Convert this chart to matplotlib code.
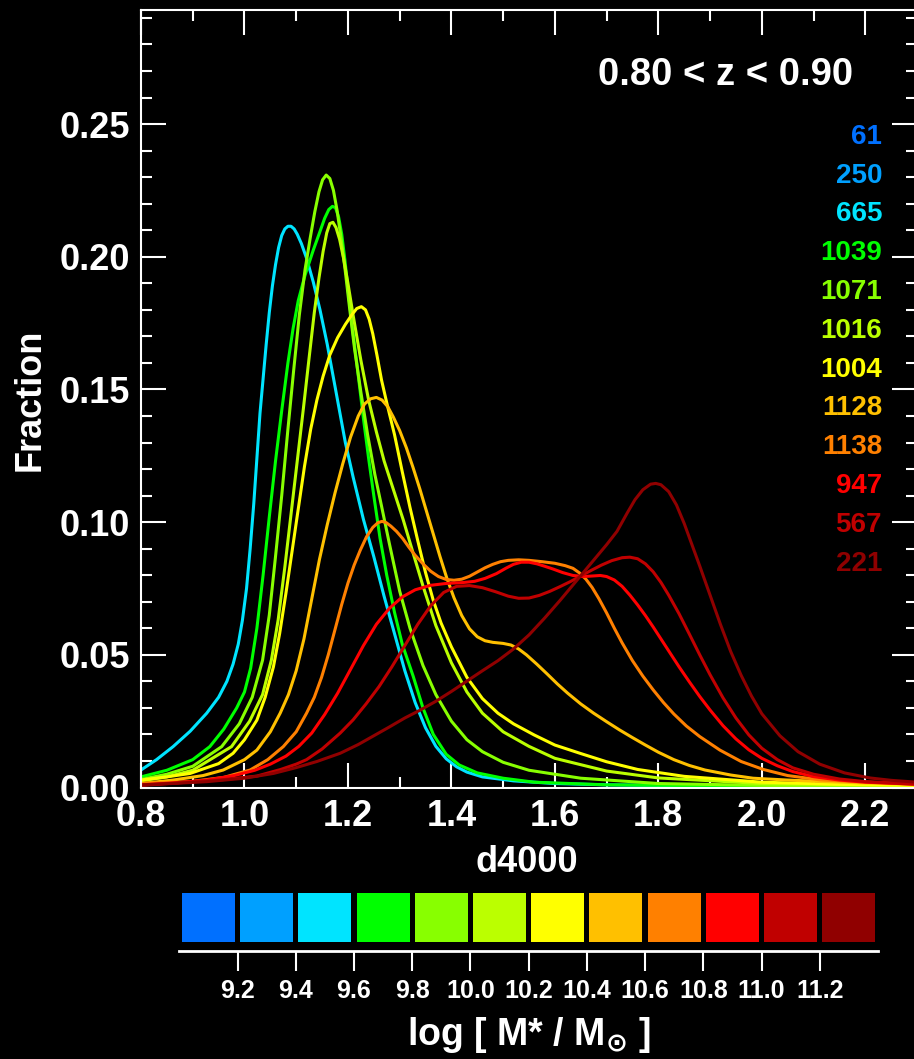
import matplotlib
matplotlib.use("Agg")
import matplotlib.pyplot as plt
import numpy as np

plt.rcParams['font.family'] = ['Liberation Sans', 'DejaVu Sans']
plt.rcParams['font.weight'] = 'bold'

# bins de masa (log M*/Msun) y numero de galaxias en cada bin
mass_edges = [9.0, 9.2, 9.4, 9.6, 9.8, 10.0, 10.2, 10.4, 10.6, 10.8, 11.0, 11.2, 11.4]
mass_ticks = [9.2, 9.4, 9.6, 9.8, 10.0, 10.2, 10.4, 10.6, 10.8, 11.0, 11.2]
counts = [61, 250, 665, 1039, 1071, 1016, 1004, 1128, 1138, 947, 567, 221]
colors = ['#0070ff', '#00a0ff', '#00e4ff', '#00ff00', '#88ff00', '#bbff00',
          '#ffff00', '#ffc000', '#ff8000', '#ff0000', '#c00000', '#900000']

# distribuciones de d4000 (solo los bins con curva)
d_665 = [0.80, 0.83, 0.862, 0.895, 0.927, 0.95, 0.966, 0.978, 0.988, 0.996, 1.004, 1.011, 1.018, 1.024,
         1.030, 1.036, 1.042, 1.048, 1.054, 1.060, 1.066, 1.072, 1.078, 1.084, 1.090, 1.096, 1.102,
         1.110, 1.120, 1.133, 1.146, 1.160, 1.178, 1.195, 1.210, 1.230, 1.250, 1.270, 1.290, 1.310,
         1.330, 1.350, 1.370, 1.390, 1.41, 1.43, 1.46, 1.52, 1.60, 1.70, 1.90, 2.30]
f_665 = [0.0066, 0.0105, 0.0154, 0.0212, 0.028, 0.034, 0.040, 0.0465, 0.054, 0.063, 0.075, 0.090, 0.107,
         0.124, 0.141, 0.154, 0.167, 0.179, 0.189, 0.197, 0.2035, 0.208, 0.2105, 0.2115, 0.2115, 0.2105,
         0.2085, 0.205, 0.1995, 0.1905, 0.180, 0.167, 0.148, 0.130, 0.117, 0.101, 0.087, 0.072, 0.058,
         0.044, 0.032, 0.0225, 0.0155, 0.0108, 0.0078, 0.0058, 0.004, 0.0025, 0.0015, 0.001, 0.0006,
         0.0003]

d_1039 = [0.80, 0.85, 0.90, 0.933, 0.96, 0.985, 1.00, 1.012, 1.024, 1.036, 1.048, 1.060, 1.072, 1.084,
          1.094, 1.104, 1.117, 1.133, 1.145, 1.155, 1.163, 1.170, 1.176, 1.182, 1.188, 1.194, 1.200,
          1.207, 1.217, 1.230, 1.240, 1.250, 1.262, 1.275, 1.290, 1.305, 1.326, 1.345, 1.365, 1.39,
          1.415, 1.45, 1.50, 1.56, 1.70, 2.0, 2.3]
f_1039 = [0.004, 0.0065, 0.0105, 0.0154, 0.022, 0.030, 0.036, 0.045, 0.060, 0.080, 0.102, 0.123, 0.142,
          0.160, 0.173, 0.1835, 0.193, 0.2025, 0.209, 0.2145, 0.2178, 0.219, 0.2185, 0.215, 0.2085,
          0.199, 0.188, 0.176, 0.160, 0.139, 0.124, 0.110, 0.094, 0.080, 0.066, 0.054, 0.042, 0.030,
          0.020, 0.0125, 0.0085, 0.0055, 0.0035, 0.002, 0.001, 0.0005, 0.0003]

d_1071 = [0.80, 0.85, 0.90, 0.956, 0.99, 1.015, 1.035, 1.048, 1.060, 1.072, 1.084, 1.095, 1.106, 1.117,
          1.127, 1.136, 1.144, 1.151, 1.158, 1.165, 1.172, 1.179, 1.186, 1.194, 1.203, 1.213, 1.225,
          1.238, 1.252, 1.265, 1.28, 1.30, 1.32, 1.345, 1.37, 1.40, 1.43, 1.46, 1.50, 1.55, 1.65, 1.8,
          2.0, 2.3]
f_1071 = [0.003, 0.005, 0.008, 0.0154, 0.024, 0.034, 0.048, 0.065, 0.087, 0.110, 0.135, 0.157, 0.178,
          0.195, 0.207, 0.217, 0.2245, 0.229, 0.2308, 0.2295, 0.225, 0.2175, 0.208, 0.196, 0.181, 0.165,
          0.149, 0.133, 0.118, 0.106, 0.092, 0.074, 0.060, 0.046, 0.035, 0.025, 0.018, 0.0135, 0.0095,
          0.0065, 0.0035, 0.0015, 0.0008, 0.0004]

d_1016 = [0.80, 0.85, 0.90, 0.975, 1.01, 1.035, 1.052, 1.065, 1.078, 1.090, 1.102, 1.114, 1.125, 1.135,
          1.144, 1.152, 1.159, 1.165, 1.171, 1.177, 1.184, 1.192, 1.20, 1.21, 1.225, 1.24, 1.255, 1.27,
          1.29, 1.307, 1.325, 1.345, 1.37, 1.40, 1.43, 1.46, 1.50, 1.55, 1.60, 1.70, 1.80, 2.0, 2.3]
f_1016 = [0.0025, 0.004, 0.0065, 0.0154, 0.025, 0.035, 0.048, 0.063, 0.083, 0.103, 0.123, 0.143, 0.162,
          0.179, 0.192, 0.202, 0.209, 0.2125, 0.213, 0.211, 0.2065, 0.199, 0.190, 0.178, 0.161, 0.146,
          0.134, 0.123, 0.111, 0.1008, 0.089, 0.076, 0.061, 0.047, 0.036, 0.028, 0.021, 0.0155, 0.011,
          0.0062, 0.0036, 0.0015, 0.0006]

d_1004 = [0.80, 0.85, 0.895, 0.95, 0.978, 1.00, 1.024, 1.04, 1.056, 1.068, 1.080, 1.092, 1.104, 1.116,
          1.128, 1.140, 1.152, 1.165, 1.18, 1.195, 1.207, 1.217, 1.226, 1.234, 1.241, 1.248, 1.256,
          1.265, 1.275, 1.29, 1.305, 1.32, 1.335, 1.35, 1.365, 1.38, 1.40, 1.43, 1.46, 1.49, 1.52, 1.56,
          1.60, 1.65, 1.70, 1.76, 1.85, 2.0, 2.15, 2.3]
f_1004 = [0.0028, 0.004, 0.0053, 0.009, 0.0129, 0.018, 0.0254, 0.034, 0.0455, 0.058, 0.073, 0.089, 0.105,
          0.121, 0.135, 0.146, 0.155, 0.163, 0.1695, 0.1745, 0.178, 0.1805, 0.1812, 0.180, 0.1765, 0.171,
          0.163, 0.1535, 0.145, 0.133, 0.119, 0.1055, 0.093, 0.081, 0.0705, 0.062, 0.053, 0.0415,
          0.0335, 0.028, 0.024, 0.0198, 0.016, 0.0128, 0.0097, 0.0068, 0.0042, 0.002, 0.0012, 0.0008]

d_1128 = [0.80, 0.862, 0.92, 0.959, 1.00, 1.024, 1.05, 1.069, 1.085, 1.10, 1.115, 1.13, 1.145, 1.16,
          1.175, 1.19, 1.205, 1.22, 1.232, 1.244, 1.255, 1.266, 1.277, 1.288, 1.30, 1.313, 1.326, 1.339,
          1.352, 1.365, 1.378, 1.391, 1.405, 1.42, 1.435, 1.45, 1.465, 1.48, 1.50, 1.515, 1.53, 1.545,
          1.565, 1.585, 1.605, 1.625, 1.65, 1.675, 1.70, 1.725, 1.75, 1.775, 1.80, 1.83, 1.86, 1.89,
          1.94, 1.983, 2.05, 2.11, 2.2, 2.3]
f_1128 = [0.0015, 0.0028, 0.0045, 0.0066, 0.0105, 0.0141, 0.021, 0.028, 0.035, 0.044, 0.056, 0.071,
          0.086, 0.099, 0.111, 0.122, 0.132, 0.140, 0.1445, 0.1465, 0.147, 0.146, 0.1435, 0.1395, 0.1345,
          0.128, 0.1205, 0.1125, 0.104, 0.0955, 0.087, 0.079, 0.0715, 0.0648, 0.0598, 0.0568, 0.0553,
          0.0547, 0.0543, 0.0537, 0.0522, 0.050, 0.0465, 0.0428, 0.039, 0.0355, 0.0315, 0.028, 0.0248,
          0.0217, 0.0188, 0.016, 0.0133, 0.0105, 0.0083, 0.0066, 0.0047, 0.0035, 0.0028, 0.0023, 0.0017,
          0.0012]

d_1138 = [0.80, 0.895, 0.96, 1.011, 1.045, 1.075, 1.10, 1.12, 1.135, 1.149, 1.162, 1.175, 1.188, 1.20,
          1.212, 1.224, 1.236, 1.248, 1.258, 1.266, 1.274, 1.283, 1.294, 1.306, 1.318, 1.33, 1.345, 1.36,
          1.375, 1.39, 1.405, 1.42, 1.435, 1.45, 1.465, 1.48, 1.495, 1.51, 1.53, 1.55, 1.575, 1.60, 1.62,
          1.635, 1.648, 1.66, 1.672, 1.685, 1.70, 1.715, 1.73, 1.75, 1.77, 1.79, 1.81, 1.83, 1.854, 1.88,
          1.919, 1.96, 2.003, 2.05, 2.112, 2.2, 2.3]
f_1138 = [0.0015, 0.0022, 0.0038, 0.0066, 0.0105, 0.0154, 0.021, 0.028, 0.034, 0.0415, 0.050, 0.0595,
          0.069, 0.077, 0.0838, 0.0895, 0.0945, 0.098, 0.0998, 0.1003, 0.0998, 0.0985, 0.0965, 0.0938,
          0.0905, 0.0875, 0.0843, 0.0815, 0.0795, 0.0784, 0.0781, 0.0785, 0.0796, 0.0812, 0.0828,
          0.0841, 0.0851, 0.0856, 0.0858, 0.0856, 0.0851, 0.0845, 0.0836, 0.0826, 0.0808, 0.0785,
          0.0754, 0.0712, 0.0658, 0.060, 0.0545, 0.0478, 0.042, 0.0368, 0.032, 0.0277, 0.0232, 0.0192,
          0.0141, 0.0098, 0.0068, 0.0045, 0.0029, 0.002, 0.0015]

d_947 = [0.80, 0.87, 0.927, 0.98, 1.02, 1.05, 1.08, 1.105, 1.13, 1.155, 1.18, 1.205, 1.23, 1.255, 1.28,
         1.305, 1.33, 1.36, 1.39, 1.42, 1.445, 1.465, 1.487, 1.505, 1.52, 1.535, 1.55, 1.565, 1.58,
         1.597, 1.615, 1.635, 1.655, 1.672, 1.688, 1.70, 1.715, 1.73, 1.745, 1.76, 1.775, 1.79, 1.805,
         1.82, 1.84, 1.86, 1.88, 1.90, 1.925, 1.95, 1.975, 2.00, 2.03, 2.06, 2.10, 2.15, 2.2, 2.3]
f_947 = [0.001, 0.0018, 0.0028, 0.0045, 0.0065, 0.0088, 0.0118, 0.0155, 0.0205, 0.0275, 0.0355, 0.0445,
         0.0535, 0.0615, 0.0675, 0.0718, 0.0745, 0.0762, 0.0769, 0.0772, 0.0777, 0.0788, 0.0806, 0.0826,
         0.0841, 0.0849, 0.0849, 0.0843, 0.0834, 0.0823, 0.081, 0.0799, 0.0795, 0.0797, 0.0799, 0.0795,
         0.0782, 0.0758, 0.0725, 0.0688, 0.0648, 0.0605, 0.056, 0.0515, 0.0455, 0.0398, 0.0343, 0.0292,
         0.0233, 0.0183, 0.0142, 0.011, 0.0082, 0.006, 0.0041, 0.0028, 0.002, 0.0012]

d_567 = [0.80, 0.89, 0.96, 1.024, 1.07, 1.10, 1.12, 1.15, 1.185, 1.21, 1.235, 1.26, 1.285, 1.31, 1.335,
         1.36, 1.385, 1.41, 1.435, 1.46, 1.485, 1.51, 1.53, 1.55, 1.57, 1.59, 1.61, 1.63, 1.65, 1.67,
         1.69, 1.71, 1.73, 1.745, 1.76, 1.775, 1.79, 1.805, 1.82, 1.84, 1.86, 1.88, 1.90, 1.925, 1.95,
         1.975, 2.00, 2.03, 2.06, 2.10, 2.15, 2.2, 2.3]
f_567 = [0.0008, 0.002, 0.003, 0.0043, 0.0068, 0.0088, 0.0105, 0.0145, 0.0205, 0.0255, 0.0315, 0.038,
         0.0455, 0.0535, 0.0615, 0.0685, 0.0735, 0.0758, 0.0761, 0.0753, 0.0738, 0.0721, 0.0713, 0.0714,
         0.0724, 0.0739, 0.0757, 0.0776, 0.0797, 0.0818, 0.0838, 0.0855, 0.0866, 0.0868, 0.0862, 0.0843,
         0.0813, 0.0773, 0.0725, 0.0655, 0.0578, 0.050, 0.0425, 0.0338, 0.0262, 0.0198, 0.0148, 0.0105,
         0.0074, 0.005, 0.0032, 0.0022, 0.0012]

d_221 = [0.80, 0.86, 0.927, 1.00, 1.056, 1.10, 1.14, 1.185, 1.22, 1.25, 1.28, 1.31, 1.34, 1.37, 1.40,
         1.43, 1.46, 1.49, 1.52, 1.55, 1.58, 1.61, 1.64, 1.67, 1.70, 1.72, 1.74, 1.755, 1.77, 1.785,
         1.795, 1.805, 1.82, 1.835, 1.85, 1.865, 1.88, 1.90, 1.92, 1.94, 1.96, 1.98, 2.00, 2.035, 2.07,
         2.112, 2.16, 2.209, 2.25, 2.3]
f_221 = [0.001, 0.0015, 0.0022, 0.0035, 0.0053, 0.0075, 0.0098, 0.0129, 0.0162, 0.0195, 0.0228, 0.0262,
         0.0292, 0.0325, 0.0362, 0.0401, 0.044, 0.0478, 0.0522, 0.0575, 0.0638, 0.0705, 0.0775, 0.0845,
         0.0915, 0.0965, 0.1035, 0.1085, 0.1122, 0.1143, 0.1146, 0.1141, 0.1115, 0.1065, 0.0995, 0.0915,
         0.0835, 0.0725, 0.0615, 0.0512, 0.0423, 0.0345, 0.0278, 0.0195, 0.0135, 0.0088, 0.0055, 0.0036,
         0.0027, 0.002]

# indice del bin -> curva
curvas = {2: (d_665, f_665), 3: (d_1039, f_1039), 4: (d_1071, f_1071), 5: (d_1016, f_1016),
          6: (d_1004, f_1004), 7: (d_1128, f_1128), 8: (d_1138, f_1138), 9: (d_947, f_947),
          10: (d_567, f_567), 11: (d_221, f_221)}

W, H = 914, 1059
fig = plt.figure(figsize=(W / 100, H / 100), dpi=100, facecolor='black')

# panel principal
ax = fig.add_axes([141 / W, 1 - 787.5 / H, 776 / W, 777.5 / H])
ax.set_facecolor('black')
for i, (xs, ys) in curvas.items():
    ax.plot(xs, ys, color=colors[i], lw=2.2, solid_joinstyle='round')

ax.set_xlim(0.8, 2.3)
ax.set_ylim(0, 0.293)
ax.set_xticks(np.arange(0.8, 2.21, 0.2))
ax.set_xticks(np.arange(0.8, 2.31, 0.1), minor=True)
ax.set_yticks(np.arange(0, 0.26, 0.05))
ax.set_yticks(np.arange(0, 0.291, 0.01), minor=True)
ax.set_xticklabels([f"{v:.1f}" for v in np.arange(0.8, 2.21, 0.2)])
ax.set_yticklabels([f"{v:.2f}" for v in np.arange(0, 0.26, 0.05)])
ax.tick_params(which='both', direction='in', top=True, right=True, colors='white',
               labelsize=26, width=1.5)
ax.tick_params(which='major', length=18)
ax.tick_params(which='minor', length=8)
ax.tick_params(axis='x', pad=8)
ax.tick_params(axis='y', pad=8)
for s in ax.spines.values():
    s.set_color('white')
    s.set_linewidth(1.5)

ax.set_xlabel('d4000', fontsize=26, color='white', fontweight='bold')
ax.xaxis.label.set_va('center')
ax.xaxis.set_label_coords(0.497, -0.096)
ax.set_ylabel('Fraction', fontsize=26, color='white', fontweight='bold')
ax.yaxis.label.set_va('center')
ax.yaxis.set_label_coords(-0.143, 0.498)

ax.text(0.9175, 0.9164, '0.80 < z < 0.90', transform=ax.transAxes, ha='right', va='center',
        fontsize=27.5, color='white')

# numero de galaxias por bin
for i, n in enumerate(counts):
    ax.text(0.955, 0.837 - i * 0.0499, str(n), transform=ax.transAxes, ha='right', va='center',
            fontsize=20, color=colors[i])

# barra de colores de masa
cax = fig.add_axes([179.3 / W, 1 - 951 / H, 698.7 / W, 58 / H])
cax.set_facecolor('black')
centros = [(a + b) / 2 for a, b in zip(mass_edges[:-1], mass_edges[1:])]
cax.bar(centros, 0.845, bottom=0.155, width=0.182, color=colors)
cax.set_xlim(mass_edges[0], mass_edges[-1])
cax.set_ylim(0, 1)
for lado in ['top', 'left', 'right']:
    cax.spines[lado].set_visible(False)
cax.spines['bottom'].set_color('white')
cax.spines['bottom'].set_linewidth(2)
cax.set_yticks([])
cax.set_xticks(mass_ticks)
cax.set_xticklabels([f"{v:.1f}" for v in mass_ticks])
cax.tick_params(axis='x', direction='out', length=14.5, width=1.5, colors='white',
                labelsize=18, pad=6)

fig.text(529 / W, 1 - 1035 / H, r'log [ M* / M$_{\odot}$ ]', ha='center', va='center',
         fontsize=27, color='white')

fig.savefig('out.png', dpi=100, facecolor='black')
